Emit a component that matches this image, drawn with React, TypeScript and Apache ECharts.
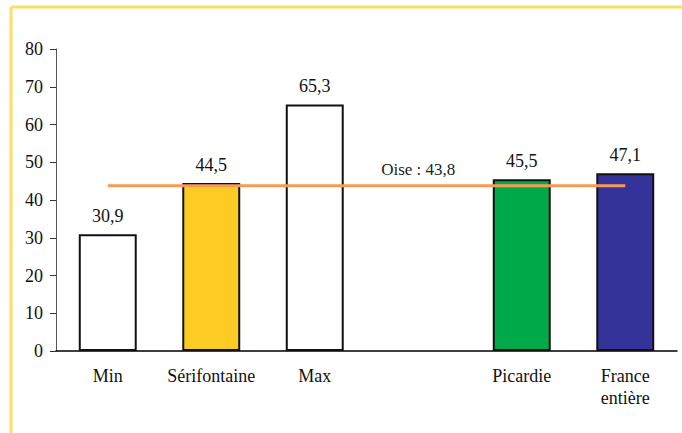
import React, { useEffect, useRef } from "react";
import * as echarts from "echarts";

const categories = ["Min", "Sérifontaine", "Max", "", "Picardie", "France\nentière"];
const barValues: (number | null)[] = [30.9, 44.5, 65.3, null, 45.5, 47.1];
const barColors = ["#FFFFFF", "#FCCC25", "#FFFFFF", "#FFFFFF", "#00AA4B", "#333399"];
const oiseValue = 43.8;
const oiseLabel = "Oise : 43,8";
const yTicks = { min: 0, max: 80, interval: 10 };

const fmt = (v: number) => String(v).replace(".", ",");

export default function App() {
  const ref = useRef<HTMLDivElement>(null);
  useEffect(() => {
    if (!ref.current) return;
    const chart = echarts.init(ref.current, null, { renderer: "svg" });
    const font = "Times New Roman, Liberation Serif, serif";
    chart.setOption({
      animation: false,
      backgroundColor: "#FFFFFF",
      textStyle: { fontFamily: font },
      grid: { left: 56, right: 5, top: 49, bottom: 82 },
      graphic: [
        { type: "line", shape: { x1: 11, y1: 7, x2: 682, y2: 7 }, style: { stroke: "#FADF63", lineWidth: 3 } },
        { type: "line", shape: { x1: 11, y1: 7, x2: 11, y2: 433 }, style: { stroke: "#FADF63", lineWidth: 3 } },
      ],
      xAxis: {
        type: "category",
        data: categories,
        axisLine: { lineStyle: { color: "#000", width: 1.5 } },
        axisTick: { show: false },
        axisLabel: { color: "#111", fontSize: 18, fontFamily: font, margin: 14, lineHeight: 22, interval: 0 },
      },
      yAxis: {
        type: "value",
        min: yTicks.min,
        max: yTicks.max,
        interval: yTicks.interval,
        axisLine: { show: true, lineStyle: { color: "#555", width: 1 } },
        axisTick: { show: true, length: 6, lineStyle: { color: "#333" } },
        splitLine: { show: false },
        axisLabel: { color: "#111", fontSize: 18, fontFamily: font, margin: 13 },
      },
      series: [
        {
          type: "bar",
          barWidth: "56%",
          data: barValues.map((v, i) =>
            v == null
              ? null
              : { value: v, itemStyle: { color: barColors[i], borderColor: "#111", borderWidth: 2 } }
          ),
          label: {
            show: true,
            position: "top",
            distance: 9,
            color: "#111",
            fontSize: 18,
            fontFamily: font,
            formatter: (p: any) => fmt(p.value),
          },
          z: 2,
        },
        {
          type: "line",
          data: categories.map((_, i) =>
            i === 3
              ? {
                  value: oiseValue,
                  label: {
                    show: true,
                    position: "top",
                    distance: 8,
                    formatter: oiseLabel,
                    color: "#222",
                    fontSize: 17,
                    fontFamily: font,
                  },
                }
              : oiseValue
          ),
          symbol: "circle",
          symbolSize: 0.01,
          showSymbol: true,
          itemStyle: { color: "rgba(0,0,0,0)" },
          lineStyle: { color: "#F79A52", width: 3 },
          z: 3,
        },
      ],
    });
    return () => chart.dispose();
  }, []);
  return (
    <div
      ref={ref}
      style={{ position: "fixed", left: 0, top: 0, width: 682, height: 433 }}
    />
  );
}
